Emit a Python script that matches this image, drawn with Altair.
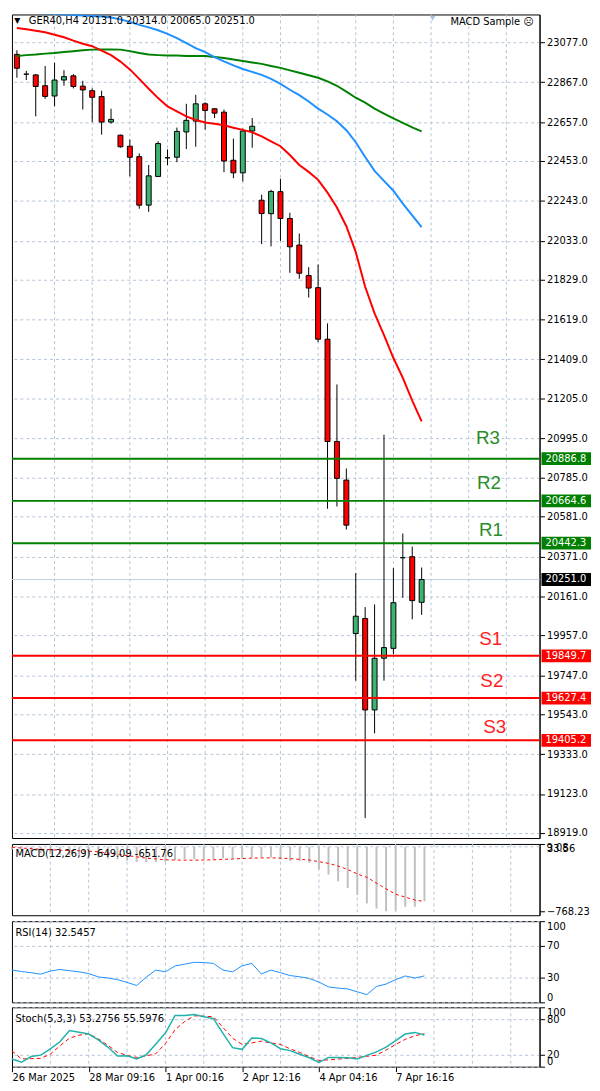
import altair as alt
import pandas as pd

# ---------------- data ----------------
bars = list(range(44))
opens = [23013, 22909, 22905, 22848, 22794, 22878, 22900, 22846, 22822, 22791,
         22657, 22588, 22530, 22475, 22220, 22371, 22469, 22472, 22605, 22662,
         22753, 22727, 22709, 22456, 22390, 22610, 22246, 22175, 22291, 22150,
         22010, 21850, 21786, 21515, 20977, 20774, 19967, 20046, 19565, 19837,
         19889, 20366, 20371, 20131]
highs = [23035, 22926, 22909, 22952, 22969, 22930, 22909, 22874, 22834, 22822,
         22727, 22591, 22565, 22492, 22431, 22556, 22513, 22628, 22753, 22800,
         22761, 22730, 22723, 22570, 22623, 22678, 22275, 22301, 22359, 22180,
         22071, 21894, 21907, 21598, 21277, 20835, 20285, 20106, 20120, 21012,
         20311, 20493, 20424, 20314]
lows = [22890, 22878, 22687, 22779, 22740, 22848, 22834, 22723, 22657, 22591,
        22649, 22522, 22371, 22201, 22185, 22369, 22431, 22446, 22515, 22527,
        22617, 22678, 22393, 22362, 22345, 22522, 22015, 22003, 22032, 21864,
        21833, 21734, 21500, 20623, 20635, 20514, 19719, 18996, 19442, 19719,
        19858, 20155, 20042, 20065]
closes = [22940, 22909, 22844, 22792, 22878, 22896, 22844, 22826, 22787, 22657,
          22671, 22527, 22472, 22220, 22374, 22544, 22469, 22608, 22666, 22753,
          22718, 22704, 22452, 22390, 22610, 22635, 22176, 22292, 22150, 22001,
          21862, 21784, 21515, 20977, 20783, 20537, 20058, 19565, 19837, 19893,
          20129, 20366, 20140, 20251]
ma_red = [23152, 23145, 23137, 23129, 23116, 23103, 23085, 23069, 23056, 23033,
          23009, 22975, 22934, 22884, 22832, 22783, 22739, 22713, 22687, 22668,
          22655, 22648, 22640, 22627, 22616, 22603, 22582, 22556, 22530, 22484,
          22431, 22395, 22353, 22286, 22208, 22109, 21973, 21791, 21651, 21536,
          21416, 21312, 21192, 21083]
ma_blue = [23233, 23233, 23231, 23228, 23225, 23223, 23220, 23218, 23215, 23212,
           23207, 23197, 23184, 23168, 23155, 23140, 23121, 23098, 23072, 23046,
           23025, 22999, 22976, 22955, 22936, 22921, 22905, 22884, 22858, 22827,
           22799, 22765, 22728, 22697, 22661, 22614, 22551, 22473, 22400, 22348,
           22296, 22228, 22166, 22104]
ma_green = [23004, 23009, 23012, 23017, 23020, 23025, 23030, 23035, 23038, 23039,
            23039, 23038, 23030, 23020, 23012, 23009, 23007, 23007, 23004, 23004,
            23004, 22999, 22994, 22986, 22978, 22970, 22963, 22952, 22942, 22929,
            22916, 22903, 22890, 22871, 22848, 22817, 22785, 22759, 22728, 22702,
            22676, 22653, 22629, 22608]
macd_main = [-30, -45, -60, -75, -85, -95, -100, -110, -120, -130,
             -140, -150, -165, -180, -185, -180, -175, -160, -150, -150,
             -150, -150, -137, -137, -137, -129, -129, -129, -150, -170,
             -170, -190, -271, -332, -412, -493, -574, -675, -736, -768.23,
             -756, -716, -716, -649.09]
macd_signal = [-5, -15, -22, -30, -35, -40, -45, -48, -52, -60,
               -75, -90, -105, -120, -135, -145, -155, -158, -160, -160,
               -158, -155, -150, -145, -140, -135, -133, -132, -135, -141,
               -150, -158, -178, -198, -230, -271, -323, -364, -433, -501,
               -566, -600, -635, -651.76]
rsi_vals = [39.7, 38, 36.5, 34.7, 38.5, 40.5, 39, 37.5, 35.5, 31.3,
            30, 28, 24.5, 20.8, 31, 39.7, 37.6, 44.8, 47, 49.3,
            49, 48, 39.7, 37.6, 45, 48, 35, 39.7, 36.5, 33,
            31.5, 29.5, 25, 19, 17.5, 16.5, 13, 9.5, 19.5, 22.5,
            28, 32.5, 30, 32.55]
stoch_main = [12.8, 7.4, 17, 19.4, 30, 42, 61, 58, 55, 45,
              33, 18, 18.4, 13, 20, 38, 56.6, 86, 86, 88,
              84, 81, 56, 32, 29.2, 48.4, 47.5, 40, 30.3, 27,
              21, 15, 7, 15.6, 15.6, 15, 12.8, 19, 25, 33,
              44, 55, 57.7, 53.28]
stoch_signal = [26.5, 13, 13.5, 14, 21, 35, 48, 53, 55.4, 47,
                36, 24, 19, 15.6, 18, 22, 39, 62, 76, 85.6,
                85, 84, 66, 48, 37.4, 40, 43, 40, 37.4, 30,
                24, 17, 10.5, 11.5, 12.8, 14, 15.6, 17.5, 19.4, 28,
                37.4, 46, 52, 55.6]

price_ticks = [23077.0, 22867.0, 22657.0, 22453.0, 22243.0, 22033.0, 21829.0,
               21619.0, 21409.0, 21205.0, 20995.0, 20785.0, 20581.0, 20371.0,
               20161.0, 19957.0, 19747.0, 19543.0, 19333.0, 19123.0, 18919.0]
level_names = ["R3", "R2", "R1", "S1", "S2", "S3"]
level_values = [20886.8, 20664.6, 20442.3, 19849.7, 19627.4, 19405.2]
level_label_y = [20996, 20757, 20509, 19938, 19716, 19473]
level_label_x = [50.05, 50.15, 50.36, 50.33, 50.46, 50.77]
last_price = 20251.0
macd_ticks = [33.56, -768.23]
macd_extra_label = "9.08"
rsi_ticks = [0, 30, 70, 100]
stoch_ticks = [0, 20, 80, 100]
grid_bars = [4, 8, 12, 16, 20, 24, 28, 32, 36, 40, 44, 48, 52]
date_bars = [0, 8, 16, 24, 32, 40]
date_labels = ["26 Mar 2025", "28 Mar 09:16", "1 Apr 00:16", "2 Apr 12:16",
               "4 Apr 04:16", "7 Apr 16:16"]
header_text = "GER40,H4  20131.0 20314.0 20065.0 20251.0"
expert_text = "MACD Sample \u2639"
macd_text = "MACD(12,26,9) -649.09 -651.76"
rsi_text = "RSI(14) 32.5457"
stoch_text = "Stoch(5,3,3) 53.2756 55.5976"

# ---------------- styling ----------------
FONT = "DejaVu Sans"
GRID = "#B4C3D8"
GREEN_C = "#3CB371"
W = 533
H_MAIN, H_MACD, H_RSI, H_STO = 832, 72, 82, 60

df = pd.DataFrame({
    "i": bars, "open": opens, "high": highs, "low": lows, "close": closes,
    "ma_red": ma_red, "ma_blue": ma_blue, "ma_green": ma_green,
    "macd": macd_main, "sig": macd_signal, "rsi": rsi_vals,
    "k": stoch_main, "d": stoch_signal,
})
df["dir"] = ["up" if c > o else ("down" if c < o else "flat") for o, c in zip(opens, closes)]
grid_df = pd.DataFrame({"g": grid_bars})

xscale = alt.Scale(domain=[0, 55], nice=False, zero=False)


def y_axis(values, fmt, flush=False, grid=True):
    return alt.Axis(orient="right", values=values, format=fmt, grid=grid,
                    gridColor=GRID, gridDash=[3, 3], gridWidth=1,
                    tickSize=5, tickColor="black", domainColor="black",
                    labelFont=FONT, labelFontSize=10, labelColor="black",
                    labelPadding=2, title=None, labelOverlap=False,
                    labelFlush=flush)


def text_layer(txt, x, y, align="left", size=10, color="black"):
    return alt.Chart(pd.DataFrame({"t": [txt]})).mark_text(
        align=align, baseline="middle", font=FONT, fontSize=size, color=color
    ).encode(x=alt.value(x), y=alt.value(y), text="t:N")


# ---------------- main price panel ----------------
yscale = alt.Scale(domain=[18891.4, 23222.8], nice=False, zero=False)
main_axis = y_axis(price_ticks, ".1f")


def XM(f):
    return alt.X(f, scale=xscale, axis=None)


def YM(f):
    return alt.Y(f, scale=yscale, axis=main_axis)


base = alt.Chart(df)
vgrid_main = alt.Chart(grid_df).mark_rule(color=GRID, strokeDash=[3, 3]).encode(x=XM("g:Q"))
cur_line = alt.Chart(pd.DataFrame({"p": [last_price]})).mark_rule(
    color="#C4D0E0", strokeWidth=1).encode(y=YM("p:Q"))
wicks = base.mark_rule(color="black", strokeWidth=1, clip=True).encode(
    x=XM("i:Q"), y=YM("low:Q"), y2="high:Q")
bodies = base.mark_bar(size=5, stroke="black", strokeWidth=1, clip=True).encode(
    x=XM("i:Q"), y=YM("open:Q"), y2="close:Q",
    color=alt.Color("dir:N", scale=alt.Scale(domain=["up", "down", "flat"],
                                             range=[GREEN_C, "#FF0000", "#000000"]),
                    legend=None))
line_red = base.mark_line(color="#FF0000", strokeWidth=2, clip=True).encode(
    x=XM("i:Q"), y=YM("ma_red:Q"))
line_blue = base.mark_line(color="#1E90FF", strokeWidth=2, clip=True).encode(
    x=XM("i:Q"), y=YM("ma_blue:Q"))
line_green = base.mark_line(color="#008000", strokeWidth=2, clip=True).encode(
    x=XM("i:Q"), y=YM("ma_green:Q"))

lv_df = pd.DataFrame({
    "name": level_names, "v": level_values, "ty": level_label_y,
    "tx": level_label_x,
    "c": ["#008000"] * 3 + ["#FF0000"] * 3,
    "tc": ["#2A8C2A"] * 3 + ["#FF1E1E"] * 3,
})
lv_lines = alt.Chart(lv_df).mark_rule(strokeWidth=2).encode(
    y=YM("v:Q"), color=alt.Color("c:N", scale=None))
lv_text = alt.Chart(lv_df).mark_text(font="Liberation Sans", fontSize=19).encode(
    x=XM("tx:Q"), y=YM("ty:Q"), text="name:N", color=alt.Color("tc:N", scale=None))

box_vals = level_values[:3] + [last_price] + level_values[3:]
box_df = pd.DataFrame({
    "v": box_vals,
    "lab": [f"{v:.1f}" for v in box_vals],
    "c": ["#008000"] * 3 + ["#000000"] + ["#FF0000"] * 3,
})
boxes = alt.Chart(box_df).mark_tick(orient="horizontal", size=50, thickness=13, opacity=1).encode(
    x=alt.value(560), y=YM("v:Q"), color=alt.Color("c:N", scale=None))
box_text = alt.Chart(box_df).mark_text(align="left", baseline="middle", font=FONT,
                                       fontSize=10, color="white").encode(
    x=alt.value(539), y=YM("v:Q"), text="lab:N")

shift_mark = alt.Chart(pd.DataFrame({"t": [0]})).mark_point(
    shape="triangle-down", filled=True, size=30, color="#AFC3D8", opacity=1).encode(
    x=alt.value(425), y=alt.value(4))

main = alt.layer(
    vgrid_main, cur_line, wicks, bodies, line_green, line_blue, line_red,
    lv_lines, lv_text, boxes, box_text,
    text_layer("\u25BC", 5.5, 6.5, align="center", size=8),
    text_layer(header_text, 17, 7),
    text_layer(expert_text, 527, 8, align="right"),
    shift_mark,
).properties(width=W, height=H_MAIN)

# ---------------- MACD panel ----------------
mscale = alt.Scale(domain=[-816, 33.56], nice=False, zero=False)
macd_axis = y_axis(macd_ticks, ".2f", flush=True, grid=False)
vgrid_macd = alt.Chart(grid_df).mark_rule(color=GRID, strokeDash=[3, 3]).encode(x=XM("g:Q"))
macd_zero = alt.Chart(pd.DataFrame({"z": [0]})).mark_rule(color=GRID, strokeDash=[3, 3]).encode(
    y=alt.Y("z:Q", scale=mscale, axis=macd_axis))
macd_hist = base.mark_rule(color="#C0C0C0", strokeWidth=2).encode(
    x=XM("i:Q"), y=alt.Y("macd:Q", scale=mscale, axis=macd_axis), y2=alt.datum(0))
macd_sig = base.mark_line(color="#FF0000", strokeWidth=1, strokeDash=[3, 3]).encode(
    x=XM("i:Q"), y=alt.Y("sig:Q", scale=mscale, axis=macd_axis))
macd_panel = alt.layer(
    vgrid_macd, macd_zero, macd_hist, macd_sig,
    text_layer(macd_text, 3.5, 10),
    text_layer(macd_extra_label, W + 7, 4),
).properties(width=W, height=H_MACD)

# ---------------- RSI panel ----------------
rscale = alt.Scale(domain=[0, 100], nice=False, zero=False)
rsi_axis = y_axis(rsi_ticks, "d", flush=True, grid=True)
vgrid_rsi = alt.Chart(grid_df).mark_rule(color=GRID, strokeDash=[3, 3]).encode(x=XM("g:Q"))
rsi_line = base.mark_line(color="#1E90FF", strokeWidth=1).encode(
    x=XM("i:Q"), y=alt.Y("rsi:Q", scale=rscale, axis=rsi_axis))
rsi_panel = alt.layer(
    vgrid_rsi, rsi_line, text_layer(rsi_text, 3.5, 12),
).properties(width=W, height=H_RSI)

# ---------------- Stochastic panel ----------------
label_expr = " : ".join(f"datum.value == {b} ? '{t}'" for b, t in zip(date_bars, date_labels)) + " : ''"
x_bottom_axis = alt.Axis(values=date_bars, labelExpr=label_expr, labelAlign="left",
                         tickSize=5, tickColor="black", domain=False, grid=False,
                         labelFont=FONT, labelFontSize=10, labelColor="black",
                         labelPadding=1, title=None, labelOverlap=False, labelFlush=False)


def XB(f):
    return alt.X(f, scale=xscale, axis=x_bottom_axis)


sscale = alt.Scale(domain=[0, 100], nice=False, zero=False)
sto_axis = y_axis(stoch_ticks, "d", flush=True, grid=True)
vgrid_sto = alt.Chart(grid_df).mark_rule(color=GRID, strokeDash=[3, 3]).encode(x=XB("g:Q"))
sto_k = base.mark_line(color="#20B2AA", strokeWidth=1.5).encode(
    x=XB("i:Q"), y=alt.Y("k:Q", scale=sscale, axis=sto_axis))
sto_d = base.mark_line(color="#FF0000", strokeWidth=1, strokeDash=[4, 3]).encode(
    x=XB("i:Q"), y=alt.Y("d:Q", scale=sscale, axis=sto_axis))
sto_panel = alt.layer(
    vgrid_sto, sto_d, sto_k, text_layer(stoch_text, 3.5, 12),
).properties(width=W, height=H_STO)

chart = alt.vconcat(main, macd_panel, rsi_panel, sto_panel, spacing=3).properties(
    padding=0, background="white"
).configure_view(stroke="black", strokeWidth=1)

chart.save("out.html", embed_options={"renderer": "svg", "actions": False})
